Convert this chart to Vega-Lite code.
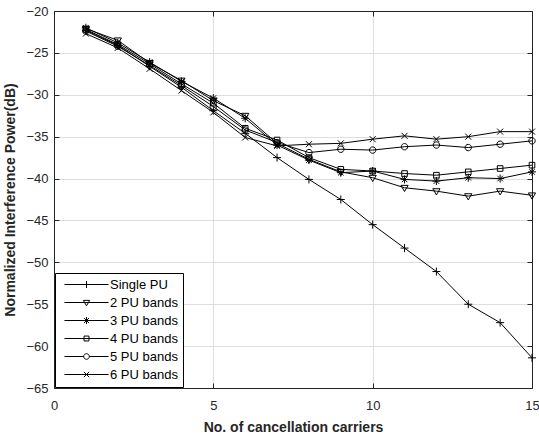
{
  "$schema": "https://vega.github.io/schema/vega-lite/v6.json",
  "width": 478,
  "height": 377,
  "autosize": {"type": "none"},
  "padding": {"left": 54, "top": 11, "right": 7, "bottom": 49},
  "config": {"view": {"stroke": null}, "font": "Liberation Sans"},
  "data": {"values": [
    {"n":1,"s":"Single PU","v":-22.3},{"n":2,"s":"Single PU","v":-24.1},{"n":3,"s":"Single PU","v":-26.6},{"n":4,"s":"Single PU","v":-29.1},{"n":5,"s":"Single PU","v":-31.9},{"n":6,"s":"Single PU","v":-34.6},{"n":7,"s":"Single PU","v":-37.5},{"n":8,"s":"Single PU","v":-40.1},{"n":9,"s":"Single PU","v":-42.5},{"n":10,"s":"Single PU","v":-45.5},{"n":11,"s":"Single PU","v":-48.3},{"n":12,"s":"Single PU","v":-51.1},{"n":13,"s":"Single PU","v":-55.0},{"n":14,"s":"Single PU","v":-57.2},{"n":15,"s":"Single PU","v":-61.4},
    {"n":1,"s":"2 PU bands","v":-22.1},{"n":2,"s":"2 PU bands","v":-23.5},{"n":3,"s":"2 PU bands","v":-26.2},{"n":4,"s":"2 PU bands","v":-28.3},{"n":5,"s":"2 PU bands","v":-30.7},{"n":6,"s":"2 PU bands","v":-32.5},{"n":7,"s":"2 PU bands","v":-35.8},{"n":8,"s":"2 PU bands","v":-37.7},{"n":9,"s":"2 PU bands","v":-39.2},{"n":10,"s":"2 PU bands","v":-39.9},{"n":11,"s":"2 PU bands","v":-41.1},{"n":12,"s":"2 PU bands","v":-41.5},{"n":13,"s":"2 PU bands","v":-42.1},{"n":14,"s":"2 PU bands","v":-41.5},{"n":15,"s":"2 PU bands","v":-42.0},
    {"n":1,"s":"3 PU bands","v":-22.0},{"n":2,"s":"3 PU bands","v":-23.8},{"n":3,"s":"3 PU bands","v":-26.1},{"n":4,"s":"3 PU bands","v":-28.4},{"n":5,"s":"3 PU bands","v":-30.4},{"n":6,"s":"3 PU bands","v":-32.8},{"n":7,"s":"3 PU bands","v":-36.0},{"n":8,"s":"3 PU bands","v":-37.8},{"n":9,"s":"3 PU bands","v":-39.3},{"n":10,"s":"3 PU bands","v":-39.1},{"n":11,"s":"3 PU bands","v":-40.1},{"n":12,"s":"3 PU bands","v":-40.3},{"n":13,"s":"3 PU bands","v":-39.9},{"n":14,"s":"3 PU bands","v":-40.0},{"n":15,"s":"3 PU bands","v":-39.2},
    {"n":1,"s":"4 PU bands","v":-22.2},{"n":2,"s":"4 PU bands","v":-24.0},{"n":3,"s":"4 PU bands","v":-26.3},{"n":4,"s":"4 PU bands","v":-28.7},{"n":5,"s":"4 PU bands","v":-31.0},{"n":6,"s":"4 PU bands","v":-34.0},{"n":7,"s":"4 PU bands","v":-35.4},{"n":8,"s":"4 PU bands","v":-37.5},{"n":9,"s":"4 PU bands","v":-38.9},{"n":10,"s":"4 PU bands","v":-39.1},{"n":11,"s":"4 PU bands","v":-39.4},{"n":12,"s":"4 PU bands","v":-39.6},{"n":13,"s":"4 PU bands","v":-39.2},{"n":14,"s":"4 PU bands","v":-38.8},{"n":15,"s":"4 PU bands","v":-38.4},
    {"n":1,"s":"5 PU bands","v":-22.4},{"n":2,"s":"5 PU bands","v":-24.2},{"n":3,"s":"5 PU bands","v":-26.5},{"n":4,"s":"5 PU bands","v":-28.9},{"n":5,"s":"5 PU bands","v":-31.4},{"n":6,"s":"5 PU bands","v":-34.2},{"n":7,"s":"5 PU bands","v":-35.7},{"n":8,"s":"5 PU bands","v":-36.9},{"n":9,"s":"5 PU bands","v":-36.5},{"n":10,"s":"5 PU bands","v":-36.6},{"n":11,"s":"5 PU bands","v":-36.2},{"n":12,"s":"5 PU bands","v":-36.0},{"n":13,"s":"5 PU bands","v":-36.3},{"n":14,"s":"5 PU bands","v":-35.9},{"n":15,"s":"5 PU bands","v":-35.5},
    {"n":1,"s":"6 PU bands","v":-22.7},{"n":2,"s":"6 PU bands","v":-24.4},{"n":3,"s":"6 PU bands","v":-26.9},{"n":4,"s":"6 PU bands","v":-29.5},{"n":5,"s":"6 PU bands","v":-32.1},{"n":6,"s":"6 PU bands","v":-35.1},{"n":7,"s":"6 PU bands","v":-36.1},{"n":8,"s":"6 PU bands","v":-35.9},{"n":9,"s":"6 PU bands","v":-35.8},{"n":10,"s":"6 PU bands","v":-35.3},{"n":11,"s":"6 PU bands","v":-34.9},{"n":12,"s":"6 PU bands","v":-35.3},{"n":13,"s":"6 PU bands","v":-35.0},{"n":14,"s":"6 PU bands","v":-34.4},{"n":15,"s":"6 PU bands","v":-34.4}
  ]},
  "layer": [
    {
      "mark": {"type": "line", "color": "black", "strokeWidth": 1},
      "encoding": {
        "x": {"field": "n", "type": "quantitative", "scale": {"domain": [0, 15], "nice": false},
          "axis": {"orient": "bottom", "values": [0, 5, 10, 15], "title": "No. of cancellation carriers", "grid": true, "gridColor": "#dedede", "gridOpacity": 1, "tickSize": -5, "tickColor": "#262626", "domainColor": "#262626", "labelFont": "Liberation Sans", "labelFontSize": 13, "labelColor": "#262626", "labelPadding": 16, "labelFlush": false, "titleFont": "Liberation Sans", "titleFontSize": 14, "titleFontWeight": "bold", "titleColor": "#262626", "titlePadding": 8}},
        "y": {"field": "v", "type": "quantitative", "scale": {"domain": [-65, -20], "nice": false, "zero": false},
          "axis": {"orient": "left", "values": [-65, -60, -55, -50, -45, -40, -35, -30, -25, -20], "title": "Normalized Interference Power(dB)", "grid": true, "gridColor": "#dedede", "gridOpacity": 1, "tickSize": -5, "tickColor": "#262626", "domainColor": "#262626", "labelFont": "Liberation Sans", "labelFontSize": 13, "labelColor": "#262626", "labelPadding": 11, "labelFlush": false, "titleFont": "Liberation Sans", "titleFontSize": 14, "titleFontWeight": "bold", "titleColor": "#262626", "titlePadding": 8}},
        "detail": {"field": "s", "type": "nominal"}
      }
    },
    {
      "mark": {"type": "point", "filled": false, "color": "black", "strokeWidth": 1, "size": 64, "opacity": 1},
      "encoding": {
        "x": {"field": "n", "type": "quantitative", "scale": {"domain": [0, 15], "nice": false},
          "axis": {"orient": "top", "values": [0, 5, 10, 15], "title": null, "labels": false, "grid": false, "tickSize": -5, "tickColor": "#262626", "domainColor": "#262626"}},
        "y": {"field": "v", "type": "quantitative", "scale": {"domain": [-65, -20], "nice": false, "zero": false},
          "axis": {"orient": "right", "values": [-65, -60, -55, -50, -45, -40, -35, -30, -25, -20], "title": null, "labels": false, "grid": false, "tickSize": -5, "tickColor": "#262626", "domainColor": "#262626"}},
        "shape": {
          "condition": [
            {"test": "datum.s === 'Single PU'", "value": "M-1,0H1M0,-1V1"},
            {"test": "datum.s === '2 PU bands'", "value": "M-0.9,-0.6H0.9L0,0.95Z"},
            {"test": "datum.s === '3 PU bands'", "value": "M0,-1V1M-1,0H1M-0.7,-0.7L0.7,0.7M-0.7,0.7L0.7,-0.7"},
            {"test": "datum.s === '4 PU bands'", "value": "M-0.7,-0.7H0.7V0.7H-0.7Z"},
            {"test": "datum.s === '5 PU bands'", "value": "M0.8,0A0.8,0.8 0 1,1 -0.8,0A0.8,0.8 0 1,1 0.8,0Z"}
          ],
          "value": "M-0.75,-0.75L0.75,0.75M-0.75,0.75L0.75,-0.75"
        }
      }
    },
    {
      "mark": {"type": "point", "filled": false, "color": "black", "strokeWidth": 1, "size": 49, "opacity": 0},
      "encoding": {
        "x": {"field": "n", "type": "quantitative", "scale": {"domain": [0, 15], "nice": false}, "axis": null},
        "y": {"field": "v", "type": "quantitative", "scale": {"domain": [-65, -20], "nice": false, "zero": false}, "axis": null},
        "shape": {"field": "s", "type": "nominal",
          "scale": {"domain": ["Single PU", "2 PU bands", "3 PU bands", "4 PU bands", "5 PU bands", "6 PU bands"],
            "range": ["M-6.3,0H6.3M0,-1V1", "M-6.3,0H6.3M-0.9,-0.6H0.9L0,0.95Z", "M-6.3,0H6.3M0,-1V1M-0.7,-0.7L0.7,0.7M-0.7,0.7L0.7,-0.7", "M-6.3,0H6.3M-0.7,-0.7H0.7V0.7H-0.7Z", "M-6.3,0H-0.8M0.8,0H6.3M0.8,0A0.8,0.8 0 1,1 -0.8,0A0.8,0.8 0 1,1 0.8,0Z", "M-6.3,0H6.3M-0.75,-0.75L0.75,0.75M-0.75,0.75L0.75,-0.75"]},
          "legend": {"title": null, "orient": "bottom-left", "offset": 1, "padding": 5, "strokeColor": "black", "fillColor": "white", "cornerRadius": 0, "symbolSize": 49, "symbolStrokeWidth": 1, "symbolStrokeColor": "black", "symbolFillColor": "transparent", "symbolOpacity": 1, "symbolOffset": 20, "labelOffset": 17, "labelFont": "Liberation Sans", "labelFontSize": 13, "labelColor": "black", "rowPadding": 4}
        }
      }
    }
  ],
  "resolve": {"axis": {"x": "independent", "y": "independent"}}
}
